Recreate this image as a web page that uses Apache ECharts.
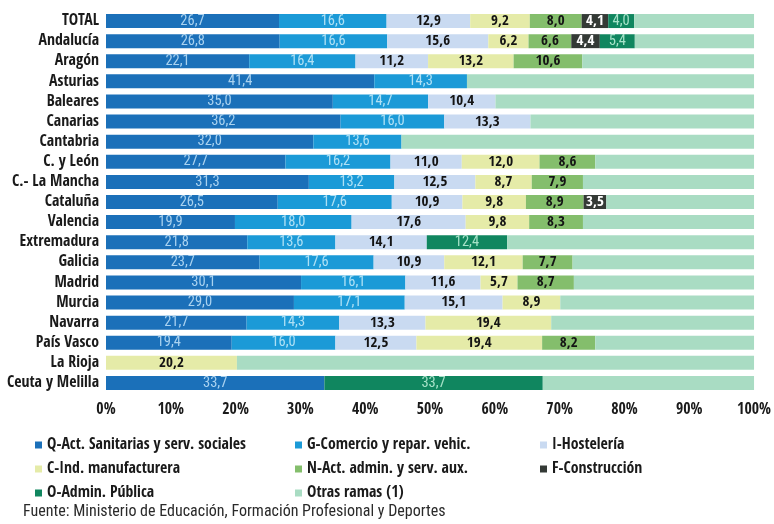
<!DOCTYPE html>
<html>
<head>
<meta charset="utf-8">
<script src="https://cdn.jsdelivr.net/npm/echarts@6/dist/echarts.min.js"></script>
<style>
html,body{margin:0;padding:0;background:#fff;}
#c{width:774px;height:524px;}
</style>
</head>
<body>
<div id="c"></div>
<script>
var categories = ["TOTAL","Andalucía","Aragón","Asturias","Baleares","Canarias","Cantabria","C. y León","C.- La Mancha","Cataluña","Valencia","Extremadura","Galicia","Madrid","Murcia","Navarra","País Vasco","La Rioja","Ceuta y Melilla"];
var seriesNames = ["Q-Act. Sanitarias y serv. sociales","G-Comercio y repar. vehic.","I-Hostelería","C-Ind. manufacturera","N-Act. admin. y serv. aux.","F-Construcción","O-Admin. Pública","Otras ramas (1)"];
var qSanitarias = [26.7,26.8,22.1,41.4,35.0,36.2,32.0,27.7,31.3,26.5,19.9,21.8,23.7,30.1,29.0,21.7,19.4,null,33.7];
var gComercio   = [16.6,16.6,16.4,14.3,14.7,16.0,13.6,16.2,13.2,17.6,18.0,13.6,17.6,16.1,17.1,14.3,16.0,null,null];
var iHosteleria = [12.9,15.6,11.2,null,10.4,13.3,null,11.0,12.5,10.9,17.6,14.1,10.9,11.6,15.1,13.3,12.5,null,null];
var cIndustria  = [9.2,6.2,13.2,null,null,null,null,12.0,8.7,9.8,9.8,null,12.1,5.7,8.9,19.4,19.4,20.2,null];
var nAdmin      = [8.0,6.6,10.6,null,null,null,null,8.6,7.9,8.9,8.3,null,7.7,8.7,null,null,8.2,null,null];
var fConstruccion = [4.1,4.4,null,null,null,null,null,null,null,3.5,null,null,null,null,null,null,null,null,null];
var oAdminPublica = [4.0,5.4,null,null,null,null,null,null,null,null,null,12.4,null,null,null,null,null,null,33.7];
var otrasRamas  = [18.5,18.4,26.5,44.3,39.9,34.5,54.4,24.5,26.4,22.8,26.4,38.1,28.0,27.8,29.9,31.3,24.5,79.8,32.6];
var xTicks = [0,10,20,30,40,50,60,70,80,90,100];

var FONT = '"Open Sans Condensed","Roboto Condensed",sans-serif';
var THIN = '"Roboto Condensed","Open Sans Condensed",sans-serif';
var colors = ['#1b70b9','#1b9ad7','#c9daf1','#e5eba8','#84be6c','#343a36','#10865f','#a9dcc3'];
var labelColors = ['#a9d2f0','#aee0f5','#141414','#141414','#141414','#ffffff','#a6e2c8',null];
var labelThin = [true,true,false,false,false,false,true,true];
var dataSets = [qSanitarias,gComercio,iHosteleria,cIndustria,nAdmin,fConstruccion,oAdminPublica,otrasRamas];

function fmt(v){ return v.toFixed(1).replace('.', ','); }

var series = dataSets.map(function(d, i){
  return {
    name: seriesNames[i],
    type: 'bar',
    stack: 'total',
    barWidth: 14,
    data: d.map(function(v){ return v == null ? '-' : v; }),
    itemStyle: {color: colors[i]},
    label: {
      show: i < 7,
      position: 'inside',
      fontFamily: labelThin[i] ? THIN : FONT,
      fontSize: labelThin[i] ? 14.5 : 15,
      fontWeight: labelThin[i] ? 'normal' : 'bold',
      color: labelColors[i] || '#141414',
      formatter: function(p){ return fmt(p.value); }
    },
    emphasis: {disabled: true}
  };
});

var legendBase = {
  orient: 'vertical',
  icon: 'rect',
  itemWidth: 7,
  itemHeight: 7,
  itemGap: 8,
  padding: 0,
  textStyle: {fontFamily: FONT, fontSize: 15.8, color: '#1a1a1a', fontWeight: 'bold', lineHeight: 16},
  top: 437
};

var chart = echarts.init(document.getElementById('c'), null, {renderer: 'canvas'});
chart.setOption({
  animation: false,
  backgroundColor: '#fff',
  grid: {left: 106, right: 17, top: 11, bottom: 131},
  xAxis: {
    type: 'value', min: 0, max: 100, interval: 10,
    axisLine: {show: false}, axisTick: {show: false},
    splitLine: {show: false},
    axisLabel: {
      margin: 9,
      fontFamily: FONT, fontSize: 15.8, fontWeight: 'bold', color: '#1a1a1a',
      formatter: function(v){ return xTicks.indexOf(v) >= 0 ? v + '%' : ''; }
    }
  },
  yAxis: {
    type: 'category', data: categories, inverse: true,
    axisLine: {show: false}, axisTick: {show: false},
    axisLabel: {interval: 0, margin: 7, fontFamily: FONT, fontSize: 15.8, fontWeight: 'bold', color: '#1a1a1a'}
  },
  legend: [
    Object.assign({}, legendBase, {left: 35, data: [seriesNames[0], seriesNames[3], seriesNames[6]]}),
    Object.assign({}, legendBase, {left: 295, data: [seriesNames[1], seriesNames[4], seriesNames[7]]}),
    Object.assign({}, legendBase, {left: 540, data: [seriesNames[2], seriesNames[5]]})
  ],
  graphic: [{
    type: 'text', left: 23, top: 504,
    style: {text: 'Fuente: Ministerio de Educación, Formación Profesional y Deportes', font: 'normal 16px ' + THIN, fill: '#2a2a2a'}
  }],
  series: series
});
</script>
</body>
</html>
